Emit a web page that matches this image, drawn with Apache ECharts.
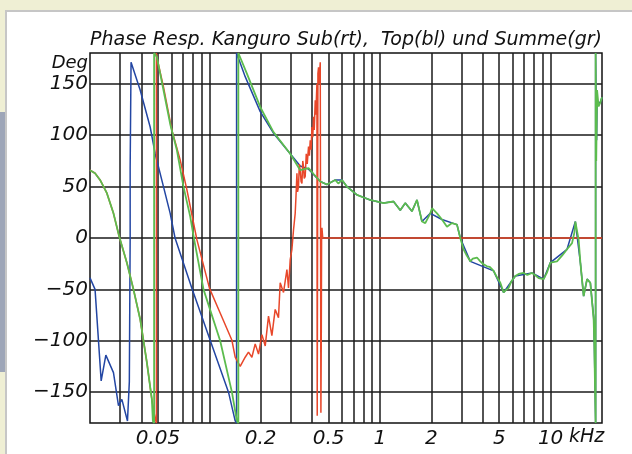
<!DOCTYPE html>
<html>
<head>
<meta charset="utf-8">
<script src="https://cdn.jsdelivr.net/npm/echarts@6/dist/echarts.min.js"></script>
<style>
html,body{margin:0;padding:0;width:632px;height:454px;overflow:hidden;background:#efefd4;}
#panel{position:absolute;left:5px;top:10px;width:625px;height:442px;background:#fff;border-top:2px solid #c6c6c6;border-left:2px solid #c6c6c6;}
#bar{position:absolute;left:0;top:112px;width:5px;height:260px;background:#9ea6b8;}
#chart{position:absolute;left:0;top:0;width:632px;height:454px;}
</style>
</head>
<body>
<div id="panel"></div>
<div id="bar"></div>
<div id="chart"></div>
<script>
// ---- data (frequency in kHz, phase in degrees) ----
const titleText = 'Phase Resp. Kanguro Sub(rt),  Top(bl) und Summe(gr)';
const xLabelValues = [0.05, 0.2, 0.5, 1, 2, 5, 10];
const xGridValues = [0.03,0.04,0.05,0.06,0.07,0.08,0.09,0.1,0.2,0.3,0.4,0.5,0.6,0.7,0.8,0.9,1,2,3,4,5,6,7,8,9,10];
const yTickValues = [-150, -100, -50, 0, 50, 100, 150];

// Sub (red)
const subPhase = [
  [0.0200,66],[0.02141,63],[0.02291,56.5],[0.02512,43.6],[0.02745,24],[0.02964,1.6],
  [0.03289,-24],[0.03595,-50],[0.03935,-79],[0.04307,-121],[0.04608,-157],[0.04818,-176],
  [0.0490,-180],[0.0490,180],[0.04971,173],[0.05389,147],[0.06036,105],[0.06751,76],
  [0.0739,47],[0.08459,-1.6],[0.1003,-49],[0.1158,-73],[0.1357,-99.5],[0.1418,-116],
  [0.1517,-125],[0.1623,-116],[0.1697,-111],[0.1777,-116],[0.1858,-103],[0.1943,-113],
  [0.2034,-94],[0.2127,-105],[0.2223,-76],[0.2327,-95],[0.2433,-69.5],[0.2544,-77.5],
  [0.2603,-43.6],[0.2722,-53],[0.2850,-30.7],[0.2912,-48.5],[0.2980,-21],[0.3049,-11],
  [0.3116,8],[0.3187,24],[0.322,40],[0.3262,63],[0.329,45],[0.3333,50],[0.337,72],
  [0.3410,66],[0.345,55],[0.3490,53],[0.353,75],[0.3566,69],[0.360,58],[0.3648,60],
  [0.370,82],[0.375,72],[0.3815,89],[0.386,80],[0.3903,95],[0.395,86],[0.3994,108],
  [0.404,98],[0.4081,118],[0.412,105],[0.4176,134],[0.421,120],[0.4272,150],[0.4290,-173],
  [0.4330,160],[0.4366,166],[0.4400,150],[0.4468,171],[0.4508,-170],[0.4530,-100],
  [0.4550,0],[0.4571,10],[0.4621,0],[20,0]
];

// Top (blue)
const topPhase = [
  [0.0200,-38.8],[0.02141,-50],[0.02325,-139],[0.02477,-114],[0.02745,-131],[0.02937,-163],
  [0.03074,-157],[0.03316,-178],[0.0340,-140],[0.03438,0],[0.03438,68],[0.0348,171],
  [0.03935,144],[0.04504,108],[0.04818,82],[0.05389,50],[0.05899,24],[0.0630,0],
  [0.07907,-49],[0.1012,-99.5],[0.1296,-150],[0.1418,-178],[0.1445,-180],[0.1445,180],
  [0.1623,157],[0.1988,123],[0.2378,102],[0.2980,82],[0.3410,70],[0.3815,67],[0.4468,55],
  [0.4890,52],[0.5470,56.5],[0.5988,56.5],[0.6405,50],[0.7332,42],[0.8772,37],[1.050,34],
  [1.201,35.5],[1.315,27],[1.407,34],[1.540,26],[1.648,37],[1.763,16],[1.972,24],[2.309,18],
  [2.827,13],[2.956,0],[3.382,-22.7],[4.634,-32],[5.303,-53],[6.210,-37],[7.780,-34],
  [9.100,-40],[9.959,-24],[12.48,-11],[13.96,16],[14.94,-24],[15.61,-56.5],[16.35,-40],
  [17.09,-43.6],[17.87,-77],[18.04,-105],[18.35,-180],[18.35,180],[18.6,95],[18.71,131],
  [19.56,132],[20,137]
];

// Summe (green)
const sumPhase = [
  [0.0200,66],[0.02141,63],[0.02291,56.5],[0.02512,43.6],[0.02745,24],[0.02964,1.6],
  [0.03289,-24],[0.03595,-50],[0.03935,-79],[0.04307,-121],[0.04608,-157],[0.04671,-178],
  [0.0475,-180],[0.0475,180],[0.04931,176],[0.05389,144],[0.05899,111],[0.06457,85.6],
  [0.07059,50],[0.07727,21],[0.08156,-1.6],[0.0925,-50],[0.1158,-100],[0.1357,-150],
  [0.1451,-178],[0.148,-180],[0.148,180],[0.1661,160],[0.1988,127.5],[0.2378,103],
  [0.2980,82],[0.3410,66],[0.3815,68],[0.41,62],[0.4468,55],[0.4890,52],[0.5470,56.5],
  [0.57,53],[0.5988,56.5],[0.6405,50],[0.7332,42],[0.8772,37],[1.050,34],[1.201,35.5],
  [1.315,27],[1.407,34],[1.540,26],[1.648,37],[1.763,16],[1.843,14.5],[1.972,24],
  [2.018,29],[2.159,24],[2.309,18],[2.470,11],[2.642,14.5],[2.827,13],[2.956,0],
  [3.090,-11],[3.2,-16],[3.382,-22.7],[3.5,-20],[3.7,-19],[3.871,-22.7],[4.0,-25],
  [4.239,-27.5],[4.4,-28],[4.634,-32],[4.8,-37],[5.072,-43.6],[5.303,-53],[5.45,-51],
  [5.673,-48.5],[5.9,-42],[6.210,-37],[6.5,-35],[6.946,-34],[7.3,-36],[7.780,-34],
  [8.1,-36],[8.506,-39],[9.100,-40],[9.5,-34],[9.959,-24],[10.90,-22.7],[11.7,-17],
  [12.48,-11],[13.35,-5],[13.77,5],[13.96,16],[14.59,-1.6],[14.94,-24],[15.61,-56.5],
  [16.35,-40],[17.09,-43.6],[17.87,-79],[18.04,-105],[18.35,-180],[18.35,180],
  [18.5,75],[18.71,144],[19.1,128],[19.56,132],[20,137]
];

const FONT = 'DejaVu Sans';
const chart = echarts.init(document.getElementById('chart'), null, {renderer: 'canvas'});
const fmtNum = v => {
  const n = +(+v).toPrecision(3);
  return (n < 0 ? '\u2212' + Math.abs(n) : String(n));
};
const lineSeries = (name, data, color, width, z) => ({
  name, type: 'line', data, showSymbol: false, symbol: 'none', z,
  lineStyle: {color, width}, itemStyle: {color}, animation: false, clip: true
});

chart.setOption({
  animation: false,
  backgroundColor: 'transparent',
  title: {
    text: titleText, left: 85, top: 26,
    textStyle: {fontFamily: FONT, fontStyle: 'italic', fontWeight: 'normal', fontSize: 19, color: '#111'}
  },
  grid: {left: 90, right: 30, top: 53, bottom: 31, show: true, backgroundColor: '#fff', borderColor: '#111', borderWidth: 1.5},
  xAxis: {
    type: 'log', logBase: 10, min: 0.02, max: 20,
    axisLine: {show: false},
    axisTick: {show: false, customValues: xGridValues},
    splitLine: {show: true, lineStyle: {color: '#1a1a1a', width: 1.5}},
    axisLabel: {customValues: xLabelValues, formatter: fmtNum, margin: 6,
      fontFamily: FONT, fontStyle: 'italic', fontSize: 20, color: '#111'}
  },
  yAxis: {
    type: 'value', min: -180, max: 180,
    axisLine: {show: false},
    axisTick: {show: false, customValues: yTickValues},
    splitLine: {show: true, lineStyle: {color: '#1a1a1a', width: 1.5}},
    axisLabel: {customValues: yTickValues, formatter: fmtNum, margin: 2,
      fontFamily: FONT, fontStyle: 'italic', fontSize: 20, color: '#111'}
  },
  graphic: [
    {type: 'text', right: 632 - 88, top: 54, style: {text: 'Deg', fontFamily: FONT, fontStyle: 'italic', fontSize: 18, fill: '#111'}},
    {type: 'text', left: 569, top: 428, style: {text: 'kHz', fontFamily: FONT, fontStyle: 'italic', fontSize: 19, fill: '#111'}}
  ],
  series: [
    lineSeries('Top', topPhase, '#2346a3', 1.5, 2),
    lineSeries('Sub', subPhase, '#e8472a', 1.5, 3),
    lineSeries('Summe', sumPhase, '#5cbc4e', 1.8, 4)
  ]
});
</script>
</body>
</html>
